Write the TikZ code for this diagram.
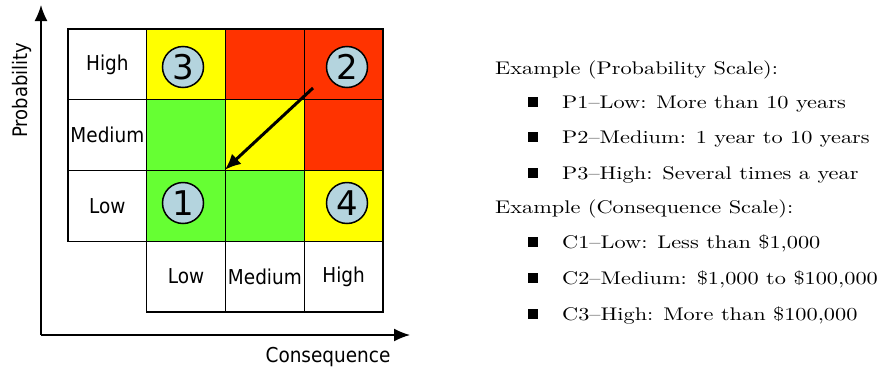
\documentclass[tikz,border=0pt]{standalone}
\usepackage{fontspec}
\newfontfamily\labfont{DejaVu Sans Condensed}
\newfontfamily\numfont{DejaVu Sans}
\newfontfamily\txtfont{lmroman10-regular}[Extension=.otf,Ligatures=TeX,FakeStretch=1.22]
\usetikzlibrary{arrows.meta}
\definecolor{ryellow}{HTML}{FFFF00}
\definecolor{rred}{HTML}{FF3300}
\definecolor{rgreen}{HTML}{66FF33}
\definecolor{circfill}{HTML}{B4D4DE}
\begin{document}
\begin{tikzpicture}[x=1pt,y=-1pt,
  cell/.style={draw=black,line width=1.3pt,minimum width=78.75pt,minimum height=70.75pt,inner sep=0pt,font=\labfont\fontsize{20.5}{22}\selectfont},
  numc/.style={circle,draw=black,line width=1.5pt,fill=circfill,minimum size=41pt,inner sep=0pt,font=\numfont\fontsize{34}{36}\selectfont},
  axis/.style={line width=1.5pt,-{Latex[length=16pt,width=13pt]}},
  txt/.style={anchor=base west,inner sep=0pt,font=\txtfont\fontsize{18.3}{20}\selectfont},
  bul/.style={fill=black,minimum size=10pt,inner sep=0pt}]
\useasboundingbox (0,0) rectangle (881,370);
% cells
\def\cw{78.75}\def\ch{70.75}
\foreach \r/\c/\col/\t in {0/0/white/High,1/0/white/Medium,2/0/white/Low,
  0/1/ryellow/,0/2/rred/,0/3/rred/,
  1/1/rgreen/,1/2/ryellow/,1/3/rred/,
  2/1/rgreen/,2/2/rgreen/,2/3/ryellow/,
  3/1/white/Low,3/2/white/Medium,3/3/white/High}
  \node[cell,fill=\col] (c\r\c) at ({68+\cw*(\c+0.5)},{29+\ch*(\r+0.5)}) {\t};
% axes
\coordinate (o) at (41,335);
\coordinate (ytop) at (41,5);
\coordinate (xend) at (410,335);
\draw[axis] (o) -- (ytop);
\draw[axis] (o) -- (xend);
\node[font=\labfont\fontsize{20}{22}\selectfont,rotate=90] (ylab) at (22,90) {Probability};
\node[font=\labfont\fontsize{20.5}{22}\selectfont] (xlab) at (328,357) {Consequence};
% circles
\node[numc] (n3) at (183,67) {3};
\node[numc] (n2) at (347,67) {2};
\node[numc] (n1) at (183,203) {1};
\node[numc] (n4) at (347,203) {4};
% arrow
\coordinate (as) at (313,88);
\draw[line width=3pt,-{Latex[length=16pt,width=14pt]}] (as) -- (c22.north west);
% text
\node[txt] (e1) at (495,74) {Example (Probability Scale):};
\node[txt] (p1) at (562,108) {P1--Low: More than 10 years};
\node[txt] (p2) at (562,143) {P2--Medium: 1 year to 10 years};
\node[txt] (p3) at (562,179) {P3--High: Several times a year};
\node[txt] (e2) at (495,213) {Example (Consequence Scale):};
\node[txt] (q1) at (562,248) {C1--Low: Less than \$1,000};
\node[txt] (q2) at (562,284) {C2--Medium: \$1,000 to \$100,000};
\node[txt] (q3) at (562,320) {C3--High: More than \$100,000};
\foreach \n in {p1,p2,p3,q1,q2,q3}
  \node[bul] at ([xshift=-29pt,yshift=6pt]\n.base west) {};
\end{tikzpicture}
\end{document}
